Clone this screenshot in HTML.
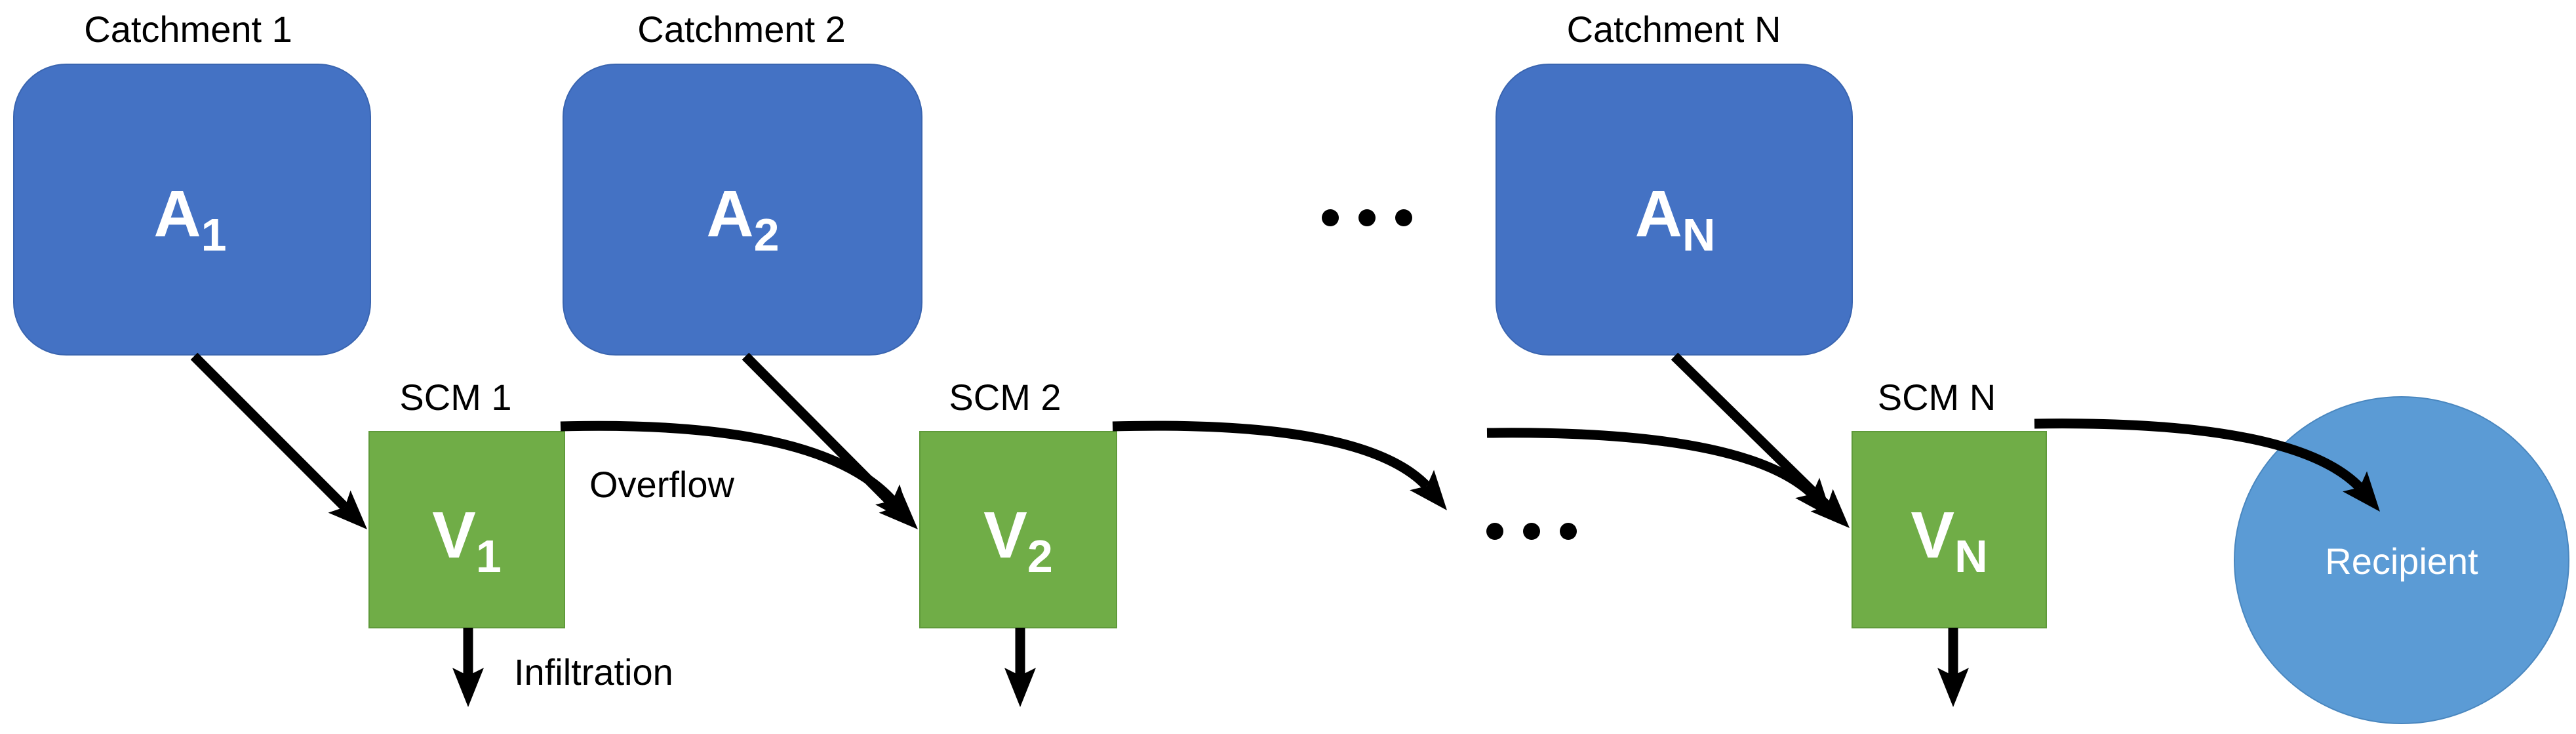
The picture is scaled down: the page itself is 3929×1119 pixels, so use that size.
<!DOCTYPE html>
<html><head><meta charset="utf-8"><style>
html,body{margin:0;padding:0;background:#fff}
svg{display:block}
text{font-family:"Liberation Sans",sans-serif}
</style></head><body>
<svg width="3929" height="1119" viewBox="0 0 3929 1119" xmlns="http://www.w3.org/2000/svg">
<!-- blue boxes -->
<rect x="21" y="98" width="544" height="443" rx="80" fill="#4472C4" stroke="#3a65b0" stroke-width="2"/>
<rect x="859" y="98" width="547" height="443" rx="80" fill="#4472C4" stroke="#3a65b0" stroke-width="2"/>
<rect x="2282" y="98" width="543" height="443" rx="80" fill="#4472C4" stroke="#3a65b0" stroke-width="2"/>
<!-- green boxes -->
<rect x="563" y="658" width="298" height="299" fill="#70AD47" stroke="#5f9a3a" stroke-width="2"/>
<rect x="1403" y="658" width="300" height="299" fill="#70AD47" stroke="#5f9a3a" stroke-width="2"/>
<rect x="2825" y="658" width="296" height="299" fill="#70AD47" stroke="#5f9a3a" stroke-width="2"/>
<!-- recipient -->
<ellipse cx="3663" cy="854" rx="255" ry="249" fill="#5B9BD5" stroke="#4a87bf" stroke-width="2"/>
<!-- labels -->
<g font-size="56" fill="#000" text-anchor="middle">
<text x="287" y="64">Catchment 1</text>
<text x="1131" y="64">Catchment 2</text>
<text x="2553" y="64">Catchment N</text>
<text x="695" y="625">SCM 1</text>
<text x="1533" y="625">SCM 2</text>
<text x="2954" y="625">SCM N</text>
</g>
<text x="899" y="758" font-size="56">Overflow</text>
<text x="784" y="1044" font-size="56">Infiltration</text>
<g fill="#fff" font-size="100" font-weight="bold" text-anchor="middle">
<text x="290" y="360">A<tspan font-size="70" dy="22">1</tspan></text>
<text x="1133" y="360">A<tspan font-size="70" dy="22">2</tspan></text>
<text x="2555" y="360">A<tspan font-size="70" dy="22">N</tspan></text>
<text x="712" y="850">V<tspan font-size="70" dy="22">1</tspan></text>
<text x="1553" y="850">V<tspan font-size="70" dy="22">2</tspan></text>
<text x="2973" y="850">V<tspan font-size="70" dy="22">N</tspan></text>
</g>
<text x="3663" y="875" fill="#fff" font-size="56" text-anchor="middle">Recipient</text>
<!-- dots -->
<g fill="#000">
<circle cx="2029" cy="332" r="13"/><circle cx="2085" cy="332" r="13"/><circle cx="2141" cy="332" r="13"/>
<circle cx="2280" cy="810" r="13"/><circle cx="2336" cy="810" r="13"/><circle cx="2392" cy="810" r="13"/>
</g>
<!-- connector lines -->
<g stroke="#000" stroke-width="15" fill="none">
<line x1="296" y1="543" x2="526" y2="773"/>
<line x1="1137" y1="543" x2="1366" y2="773"/>
<line x1="2554" y1="543" x2="2787" y2="771"/>
<path d="M855,650 Q1250,640 1361,763"/>
<path d="M1697,650 Q2080,640 2176,741"/>
<path d="M2268,660 Q2660,655 2764,753"/>
<path d="M3103,646 Q3500,640 3599,743"/>
<line x1="714" y1="957" x2="714" y2="1035"/>
<line x1="1556" y1="957" x2="1556" y2="1035"/>
<line x1="2979" y1="957" x2="2979" y2="1035"/>
</g>
<!-- arrowheads -->
<g fill="#000">
<polygon points="560,807 500.6,781.6 526,773 534.6,747.6"/>
<polygon points="1400,807 1340.6,781.6 1366,773 1374.6,747.6"/>
<polygon points="2821,805 2761.6,779.6 2787,771 2795.6,745.6"/>
<polygon points="1392,800 1335.1,769.2 1361.3,763 1372.1,738.4"/>
<polygon points="2207,778 2150.1,747.2 2176.3,741 2187.1,716.4"/>
<polygon points="2795,790 2738.1,759.2 2764.3,753 2775.1,728.4"/>
<polygon points="3630,780 3573.1,749.2 3599.3,743 3610.1,718.4"/>
<polygon points="714,1078 690,1018 714,1030 738,1018"/>
<polygon points="1556,1078 1532,1018 1556,1030 1580,1018"/>
<polygon points="2979,1078 2955,1018 2979,1030 3003,1018"/>
</g>
</svg>
</body></html>
